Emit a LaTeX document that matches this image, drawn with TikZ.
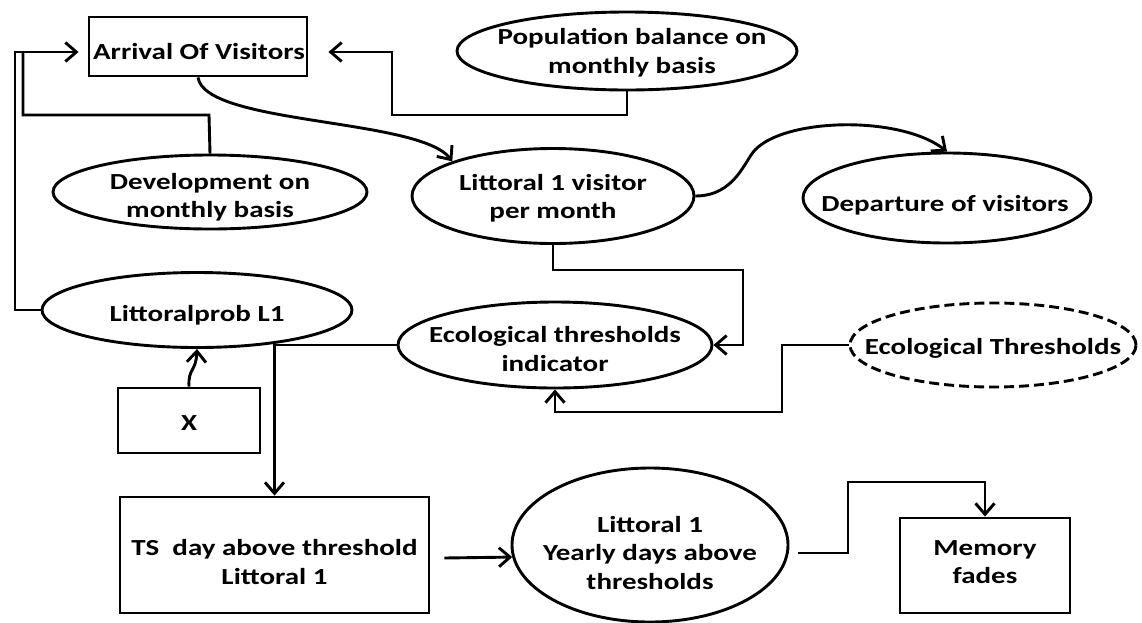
\documentclass[tikz,border=0pt]{standalone}
\usepackage{fontspec}
\setmainfont{Carlito}[FakeStretch=1.26]
\usetikzlibrary{arrows.meta,shapes.geometric}
\begin{document}
\begin{tikzpicture}[x=1pt,y=-1pt,line width=2.9pt,
  shp/.style={draw, inner sep=0pt},
  boxs/.style={shp, rectangle},
  oval/.style={shp, ellipse},
  txt/.style={inner sep=0pt, align=center, font=\bfseries\fontsize{23}{28.5}\selectfont},
  arrow/.style={-{Straight Barb[length=11pt,width=19pt]}},
  plain/.style={-}
]
\useasboundingbox (0,0) rectangle (1142,622);
% shapes
\node[boxs, minimum width=218pt, minimum height=59pt] (arr) at (198,46.5) {};
\node[oval, minimum width=340pt, minimum height=78pt] (pop) at (627,51) {};
\node[oval, minimum width=314pt, minimum height=74pt] (dev) at (210,192) {};
\node[oval, minimum width=282pt, minimum height=95pt] (lit) at (553,196) {};
\node[oval, minimum width=288pt, minimum height=90pt] (dep) at (947,198) {};
\node[oval, minimum width=310pt, minimum height=75pt] (prob) at (197,310) {};
\node[oval, minimum width=314pt, minimum height=86pt] (eco) at (555,345) {};
\node[oval, dash pattern=on 10pt off 5pt, minimum width=286pt, minimum height=84pt] (thr) at (993,345) {};
\node[boxs, minimum width=142pt, minimum height=65pt] (x) at (189,420.5) {};
\node[boxs, minimum width=309pt, minimum height=116pt] (ts) at (274.5,555) {};
\node[oval, minimum width=276pt, minimum height=154pt] (yr) at (650,545) {};
\node[boxs, minimum width=170pt, minimum height=95pt] (mem) at (985,565.5) {};
% texts
\node[txt] (arrT) at (199,52) {Arrival Of Visitors};
\node[txt] (popT) at (632,52.5) {Population balance on\\monthly basis};
\node[txt] (devT) at (210,197) {Development on\\monthly basis};
\node[txt] (litT) at (553,198) {Littoral 1 visitor\\per month};
\node[txt] (depT) at (945,205) {Departure of visitors};
\node[txt] (probT) at (197,315) {Littoralprob L1};
\node[txt] (ecoT) at (555,349) {Ecological thresholds\\indicator};
\node[txt] (thrT) at (993,348) {Ecological Thresholds};
\node[txt] (xT) at (189,423) {X};
\node[txt] (tsT) at (274.5,562) {TS\ \ day above threshold\\Littoral 1};
\node[txt] (yrT) at (650,553) {Littoral 1\\Yearly days above\\thresholds};
\node[txt] (memT) at (985,562) {Memory\\fades};
% junction
\coordinate (j1) at (23,52);
% connectors
\draw[arrow] (prob.west) -- (15,310) -- (15,52) -- ([shift={(-9,5.5)}]arr.west);
\draw[plain] (dev.north) -- (209,115) -- (23,115) -- (j1);
\draw[arrow] (pop.south) -- (627,115) -- (392,115) -- (392,52) -- ([shift={(20,5.5)}]arr.east);
\draw[arrow] (arr.south) .. controls (205,125) and (420,118) .. (lit.north west);
\draw[arrow] (lit.east) .. controls (735,196) and (745,160) .. (755,150)
  .. controls (785,118) and (900,115) .. (dep.north);
\draw[arrow] (lit.south) |- (743,270) |- (eco.east);
\draw[arrow] (thr.west) -| (782,412) -| (eco.south);
\draw[arrow] (eco.west) -| (ts.north);
\draw[arrow] (x.north) .. controls (188,368) and (196,372) .. (prob.south);
\draw[arrow] (ts.east) ++(14,3) -- (yr.185);
\draw[arrow] (yr.east) ++(9,8) -| (848,482) -| (mem.north);
\end{tikzpicture}
\end{document}
